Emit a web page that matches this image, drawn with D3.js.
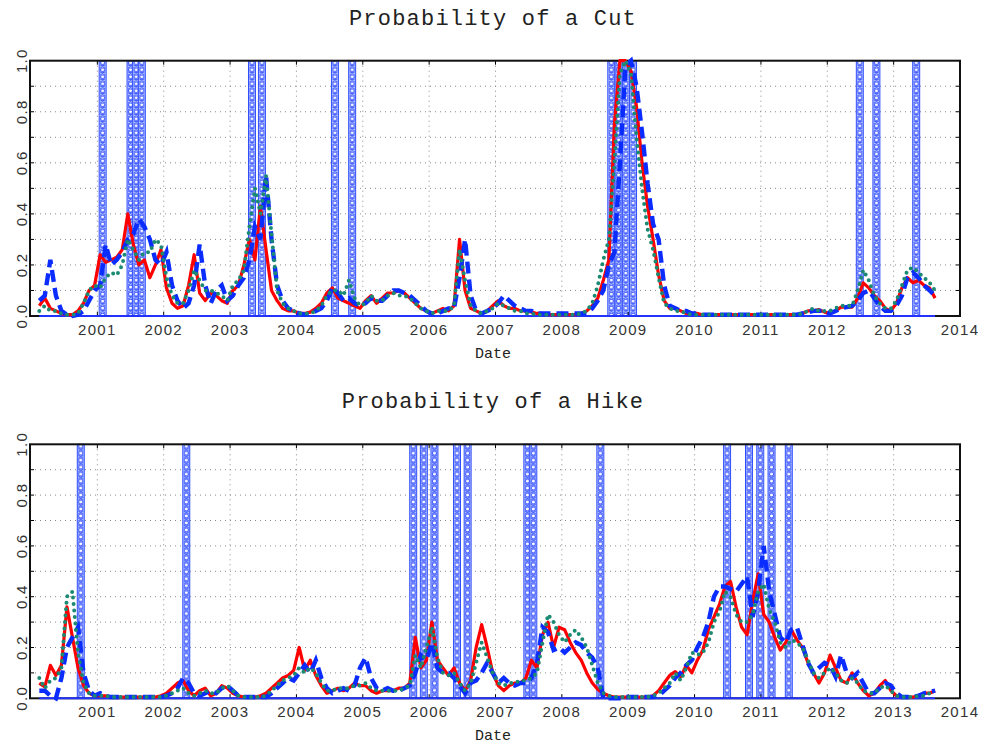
<!DOCTYPE html>
<html><head><meta charset="utf-8">
<script src="https://cdn.jsdelivr.net/npm/d3@7"></script>
<style>body{margin:0;background:#fff}svg{display:block}</style>
</head><body><svg id="c" width="984" height="748"></svg>
<script>
// ---- data ----
const yearTicks = [2001,2002,2003,2004,2005,2006,2007,2008,2009,2010,2011,2012,2013,2014];
const yTickLabels = [0.0,0.2,0.4,0.6,0.8,1.0];
const yGrid = [0.1,0.2,0.3,0.4,0.5,0.6,0.7,0.8,0.9];
const firstMonth = {year:2000, month:2}; // monthly series starting Feb 2000

const cutRed = [
0.04,0.07,0.03,0.02,0.01,0.005,0.005,0.02,0.05,0.10,
0.12,0.24,0.21,0.22,0.23,0.26,0.40,0.28,0.20,0.22,
0.15,0.20,0.26,0.11,0.05,0.03,0.04,0.12,0.24,0.09,
0.06,0.09,0.08,0.06,0.05,0.10,0.12,0.20,0.30,0.22,
0.43,0.26,0.10,0.06,0.03,0.02,0.02,0.01,0.01,0.015,
0.03,0.05,0.09,0.11,0.07,0.06,0.05,0.04,0.03,0.06,
0.08,0.05,0.07,0.09,0.09,0.10,0.09,0.07,0.05,0.03,
0.02,0.01,0.02,0.03,0.02,0.04,0.30,0.10,0.03,0.02,
0.01,0.02,0.04,0.06,0.04,0.03,0.03,0.02,0.02,0.015,
0.01,0.01,0.005,0.005,0.005,0.005,0.005,0.005,0.01,0.02,
0.04,0.07,0.14,0.22,0.75,1.0,1.0,0.96,0.82,0.60,
0.43,0.30,0.16,0.06,0.03,0.03,0.02,0.01,0.01,0.01,
0.005,0.005,0.005,0.005,0.005,0.005,0.005,0.005,0.005,0.005,
0.005,0.005,0.005,0.005,0.005,0.005,0.005,0.005,0.01,0.02,
0.02,0.025,0.015,0.01,0.02,0.035,0.035,0.035,0.07,0.13,
0.11,0.08,0.06,0.03,0.02,0.05,0.11,0.15,0.13,0.14,
0.12,0.11,0.07];
const cutBlue = [
0.06,0.08,0.22,0.08,0.02,0.005,0.0,0.005,0.02,0.06,
0.10,0.12,0.28,0.20,0.22,0.25,0.30,0.32,0.38,0.35,
0.30,0.22,0.20,0.25,0.12,0.06,0.03,0.05,0.12,0.28,
0.12,0.05,0.10,0.12,0.06,0.08,0.12,0.15,0.22,0.35,
0.30,0.55,0.30,0.12,0.06,0.03,0.02,0.01,0.005,0.01,
0.02,0.03,0.06,0.11,0.09,0.06,0.07,0.05,0.04,0.05,
0.07,0.06,0.06,0.08,0.10,0.10,0.09,0.08,0.06,0.04,
0.02,0.01,0.01,0.02,0.03,0.03,0.15,0.30,0.08,0.02,
0.01,0.02,0.03,0.05,0.08,0.06,0.04,0.03,0.02,0.02,
0.01,0.01,0.01,0.01,0.01,0.01,0.01,0.01,0.01,0.01,
0.03,0.06,0.10,0.20,0.25,0.60,0.98,1.0,0.90,0.72,
0.52,0.36,0.30,0.12,0.04,0.03,0.02,0.02,0.01,0.01,
0.005,0.005,0.005,0.005,0.005,0.005,0.005,0.005,0.005,0.005,
0.005,0.005,0.005,0.005,0.005,0.005,0.005,0.005,0.01,0.015,
0.02,0.02,0.02,0.01,0.02,0.03,0.035,0.04,0.06,0.09,
0.10,0.07,0.04,0.02,0.02,0.04,0.08,0.15,0.17,0.15,
0.12,0.10,0.08];
const cutTeal = [
0.02,0.04,0.02,0.02,0.01,0.005,0.005,0.01,0.05,0.10,
0.12,0.11,0.15,0.17,0.16,0.20,0.30,0.26,0.22,0.25,
0.25,0.30,0.28,0.15,0.08,0.05,0.05,0.10,0.18,0.14,
0.10,0.10,0.09,0.08,0.06,0.12,0.14,0.18,0.35,0.50,
0.40,0.55,0.32,0.10,0.05,0.03,0.02,0.01,0.01,0.01,
0.02,0.04,0.08,0.10,0.10,0.08,0.14,0.07,0.04,0.05,
0.08,0.06,0.06,0.08,0.09,0.08,0.08,0.07,0.05,0.03,
0.02,0.01,0.02,0.02,0.02,0.04,0.26,0.14,0.04,0.02,
0.01,0.02,0.03,0.05,0.04,0.03,0.02,0.02,0.01,0.01,
0.005,0.005,0.005,0.005,0.005,0.005,0.005,0.005,0.01,0.02,
0.05,0.12,0.22,0.30,0.60,0.95,1.0,0.95,0.70,0.50,
0.34,0.26,0.15,0.05,0.03,0.02,0.02,0.01,0.005,0.005,
0.005,0.005,0.005,0.005,0.005,0.005,0.005,0.005,0.005,0.005,
0.005,0.005,0.005,0.005,0.005,0.005,0.005,0.005,0.01,0.02,
0.03,0.02,0.02,0.02,0.03,0.04,0.04,0.04,0.10,0.18,
0.14,0.08,0.05,0.03,0.03,0.06,0.12,0.18,0.19,0.17,
0.15,0.13,0.10];

const hikeRed = [
0.06,0.045,0.13,0.09,0.13,0.36,0.24,0.12,0.05,0.02,
0.01,0.01,0.01,0.005,0.005,0.005,0.005,0.005,0.005,0.005,
0.005,0.005,0.01,0.02,0.04,0.06,0.07,0.03,0.01,0.03,
0.04,0.01,0.02,0.05,0.04,0.02,0.01,0.005,0.005,0.005,
0.01,0.02,0.04,0.06,0.08,0.09,0.11,0.20,0.11,0.15,
0.09,0.05,0.02,0.03,0.04,0.03,0.04,0.06,0.05,0.05,
0.03,0.02,0.03,0.03,0.03,0.04,0.04,0.06,0.24,0.12,
0.15,0.30,0.15,0.12,0.09,0.12,0.06,0.03,0.07,0.20,
0.29,0.20,0.10,0.05,0.03,0.05,0.06,0.06,0.08,0.15,
0.12,0.25,0.30,0.20,0.28,0.27,0.22,0.18,0.15,0.10,
0.06,0.035,0.02,0.01,0.005,0.005,0.005,0.005,0.005,0.005,
0.005,0.01,0.03,0.06,0.09,0.105,0.085,0.13,0.10,0.15,
0.19,0.27,0.32,0.37,0.44,0.46,0.36,0.28,0.25,0.38,
0.49,0.33,0.30,0.24,0.19,0.22,0.27,0.23,0.20,0.14,
0.10,0.06,0.10,0.17,0.12,0.07,0.06,0.10,0.06,0.03,
0.01,0.02,0.05,0.07,0.03,0.01,0.005,0.005,0.005,0.01,
0.02,0.02,0.03];
const hikeBlue = [
0.03,0.03,0.01,0.0,0.08,0.20,0.24,0.28,0.10,0.03,
0.01,0.02,0.01,0.005,0.005,0.005,0.005,0.005,0.005,0.005,
0.005,0.005,0.005,0.01,0.02,0.04,0.08,0.06,0.02,0.01,
0.02,0.03,0.02,0.04,0.05,0.03,0.01,0.005,0.005,0.005,
0.005,0.005,0.02,0.04,0.06,0.08,0.07,0.10,0.13,0.10,
0.15,0.08,0.04,0.02,0.03,0.04,0.03,0.05,0.12,0.16,
0.08,0.04,0.03,0.04,0.03,0.03,0.04,0.05,0.10,0.17,
0.15,0.22,0.12,0.10,0.10,0.08,0.05,0.02,0.06,0.07,
0.10,0.14,0.10,0.06,0.08,0.06,0.05,0.06,0.06,0.08,
0.14,0.28,0.26,0.19,0.20,0.18,0.20,0.22,0.21,0.18,
0.16,0.12,0.0,0.0,0.0,0.0,0.005,0.005,0.005,0.005,
0.005,0.005,0.01,0.03,0.05,0.08,0.10,0.13,0.15,0.20,
0.24,0.30,0.40,0.44,0.44,0.43,0.42,0.45,0.48,0.32,
0.42,0.60,0.42,0.33,0.24,0.22,0.27,0.28,0.21,0.14,
0.10,0.12,0.14,0.13,0.085,0.17,0.10,0.08,0.10,0.06,
0.02,0.02,0.04,0.06,0.05,0.02,0.005,0.005,0.005,0.01,
0.02,0.025,0.03];
const hikeTeal = [
0.08,0.04,0.07,0.08,0.12,0.40,0.42,0.18,0.06,0.02,
0.01,0.01,0.01,0.005,0.005,0.005,0.005,0.005,0.005,0.005,
0.005,0.005,0.005,0.01,0.02,0.03,0.04,0.02,0.01,0.02,
0.03,0.02,0.02,0.04,0.05,0.03,0.01,0.005,0.005,0.005,
0.005,0.01,0.03,0.05,0.07,0.08,0.09,0.12,0.10,0.12,
0.10,0.06,0.03,0.03,0.04,0.04,0.04,0.05,0.05,0.06,
0.04,0.03,0.03,0.03,0.03,0.03,0.04,0.05,0.17,0.12,
0.20,0.28,0.16,0.10,0.09,0.10,0.06,0.03,0.06,0.14,
0.22,0.16,0.10,0.06,0.05,0.06,0.06,0.07,0.07,0.08,
0.10,0.22,0.33,0.30,0.25,0.22,0.25,0.27,0.24,0.20,
0.13,0.06,0.02,0.01,0.005,0.005,0.005,0.005,0.005,0.005,
0.005,0.01,0.02,0.04,0.06,0.10,0.07,0.12,0.18,0.17,
0.18,0.22,0.30,0.34,0.42,0.40,0.33,0.30,0.30,0.33,
0.42,0.45,0.35,0.30,0.22,0.20,0.23,0.22,0.20,0.15,
0.10,0.08,0.10,0.12,0.10,0.07,0.06,0.08,0.06,0.03,
0.02,0.02,0.04,0.05,0.03,0.01,0.005,0.005,0.005,0.01,
0.01,0.02,0.02];

// policy decision dates (decimal years) shown as hatched bands
const cutEvents = [2001.08, 2001.50, 2001.585, 2001.67, 2003.33, 2003.48, 2004.58, 2004.84,
  2008.745, 2008.855, 2008.964, 2009.073, 2012.49, 2012.74, 2013.34];
const hikeEvents = [2000.75, 2002.34, 2005.76, 2005.92, 2006.08, 2006.42, 2006.58,
  2007.48, 2007.57, 2008.58, 2010.49, 2010.82, 2010.99, 2011.16, 2011.42];

// ---- drawing ----
const svg = d3.select("#c");
const x = d3.scaleLinear().domain([2000, 2014]).range([31, 960]);
const monthDate = i => firstMonth.year + (firstMonth.month - 0.5 + i) / 12;
const bandHalf = 0.0525;

const defs = svg.append("defs");
const pat = defs.append("pattern").attr("id","hatch")
  .attr("patternUnits","objectBoundingBox").attr("width",1).attr("height",7/255);
pat.append("rect").attr("width",7).attr("height",7).attr("fill","#b9c5ff");
pat.append("ellipse").attr("cx",3.5).attr("cy",2).attr("rx",2.1).attr("ry",1.9)
  .attr("fill","#fff").attr("stroke","#3d58ff").attr("stroke-width",1);
pat.append("path").attr("d","M1.2,4.2L5.8,6.8M5.8,4.2L1.2,6.8")
  .attr("stroke","#3d58ff").attr("stroke-width",1);

const panels = [
  {title:"Probability of a Cut", red:cutRed, blue:cutBlue, teal:cutTeal, events:cutEvents, top:60.7, bottom:316},
  {title:"Probability of a Hike", red:hikeRed, blue:hikeBlue, teal:hikeTeal, events:hikeEvents, top:444.3, bottom:698.3}
];

panels.forEach(p => {
  const g = svg.append("g");
  const y = d3.scaleLinear().domain([0,1]).range([p.bottom, p.top]);
  const L = 30, R = 960;

  // grid
  g.selectAll(".gx").data(yearTicks.filter(d => d < 2014)).join("line")
    .attr("x1", d => x(d)).attr("x2", d => x(d)).attr("y1", p.top).attr("y2", p.bottom)
    .attr("stroke","#8a8a8a").attr("stroke-width",1).attr("stroke-dasharray","1,4");
  g.selectAll(".gy").data(yGrid).join("line")
    .attr("x1", L).attr("x2", R).attr("y1", d => y(d)).attr("y2", d => y(d))
    .attr("stroke","#8a8a8a").attr("stroke-width",1).attr("stroke-dasharray","1,4");

  // event bands
  g.selectAll(".band").data(p.events).join("rect")
    .attr("x", d => x(d - bandHalf)).attr("width", d => x(d + bandHalf) - x(d - bandHalf))
    .attr("y", p.top).attr("height", p.bottom - p.top)
    .attr("fill","url(#hatch)").attr("stroke","#2f4dff").attr("stroke-width",1);

  // tick marks inward
  const tickLen = 4;
  yearTicks.forEach(d => {
    g.append("line").attr("x1",x(d)).attr("x2",x(d)).attr("y1",p.bottom).attr("y2",p.bottom-tickLen).attr("stroke","#000");
    g.append("line").attr("x1",x(d)).attr("x2",x(d)).attr("y1",p.top).attr("y2",p.top+tickLen).attr("stroke","#000");
  });
  yGrid.forEach(d => {
    g.append("line").attr("x1",L).attr("x2",L+tickLen).attr("y1",y(d)).attr("y2",y(d)).attr("stroke","#000");
    g.append("line").attr("x1",R).attr("x2",R-tickLen).attr("y1",y(d)).attr("y2",y(d)).attr("stroke","#000");
  });

  // frame
  g.append("rect").attr("x",L).attr("y",p.top).attr("width",R-L).attr("height",p.bottom-p.top)
    .attr("fill","none").attr("stroke","#111").attr("stroke-width",2);

  // zero baseline of event indicator
  const n = p.red.length;
  g.append("line").attr("x1", x(monthDate(0))).attr("x2", x(monthDate(n-1)))
    .attr("y1", y(0)).attr("y2", y(0)).attr("stroke","#2233ff").attr("stroke-width",2);

  const line = d3.line().x((d,i) => x(monthDate(i))).y(d => y(d));
  g.append("path").datum(p.red).attr("d", line).attr("fill","none")
    .attr("stroke","#ff0000").attr("stroke-width",3.2).attr("stroke-linejoin","round");
  g.append("path").datum(p.blue).attr("d", line).attr("fill","none")
    .attr("stroke","#0a2cff").attr("stroke-width",4.4).attr("stroke-dasharray","12,6");
  g.append("path").datum(p.teal).attr("d", line).attr("fill","none")
    .attr("stroke","#1b8a72").attr("stroke-width",4).attr("stroke-linecap","round")
    .attr("stroke-dasharray","0,6.5");

  // tick labels
  g.selectAll(".xl").data(yearTicks).join("text")
    .attr("x", d => x(d)).attr("y", p.bottom + 19).attr("text-anchor","middle")
    .attr("font-family","'Liberation Sans', Arial, sans-serif").attr("font-size",15)
    .attr("letter-spacing",1.3).attr("fill","#333").text(d => d);
  g.selectAll(".yl").data(yTickLabels).join("text")
    .attr("transform", d => `translate(27,${y(d)}) rotate(-90)`).attr("text-anchor","middle")
    .attr("font-family","'Liberation Sans', Arial, sans-serif").attr("font-size",15)
    .attr("letter-spacing",1.3).attr("fill","#333").text(d => d.toFixed(1));

  // titles
  g.append("text").attr("x", 493).attr("y", p.top - 36).attr("text-anchor","middle")
    .attr("font-family","'Liberation Mono', 'DejaVu Sans Mono', monospace").attr("font-size",22)
    .attr("letter-spacing",1.2).attr("fill","#222").text(p.title);
  g.append("text").attr("x", 493).attr("y", p.bottom + 42).attr("text-anchor","middle")
    .attr("font-family","'Liberation Mono', 'DejaVu Sans Mono', monospace").attr("font-size",15)
    .attr("fill","#222").text("Date");
});
</script></body></html>
